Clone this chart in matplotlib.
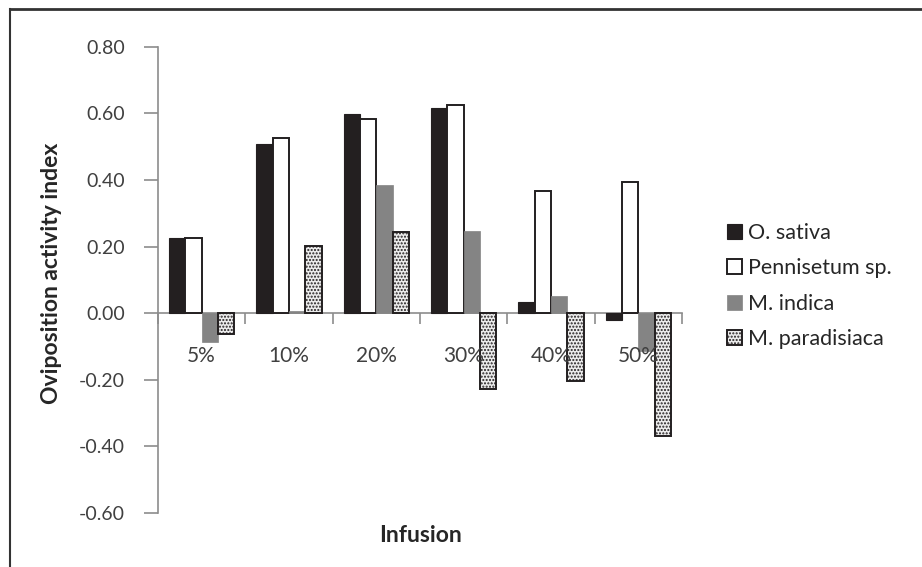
import numpy as np
import matplotlib
matplotlib.use('Agg')
import matplotlib.pyplot as plt
from matplotlib.lines import Line2D

plt.rcParams['font.family'] = ['Lato', 'DejaVu Sans']
plt.rcParams['hatch.linewidth'] = 1.0

# data
categories = ['5%', '10%', '20%', '30%', '40%', '50%']
o_sativa = [0.227, 0.509, 0.597, 0.615, 0.033, -0.022]
pennisetum = [0.225, 0.526, 0.584, 0.624, 0.366, 0.394]
m_indica = [-0.087, 0.006, 0.386, 0.247, 0.051, -0.113]
m_paradisiaca = [-0.062, 0.203, 0.245, -0.227, -0.205, -0.368]
series_names = ['O. sativa', 'Pennisetum sp.', 'M. indica', 'M. paradisiaca']
yticks = [-0.6, -0.4, -0.2, 0.0, 0.2, 0.4, 0.6, 0.8]

W, H = 922, 567
fig = plt.figure(figsize=(W / 100, H / 100), dpi=100)
ax = fig.add_axes([158 / W, 1 - 513 / H, (682 - 158) / W, (513 - 46.7) / H])

x = np.arange(len(categories)) + 0.5
w = 0.187
styles = [
    dict(color='#231f20', edgecolor='#231f20', linewidth=0.8),
    dict(color='white', edgecolor='#231f20', linewidth=1.4),
    dict(color='#848484', edgecolor='#848484', linewidth=0.5),
    dict(color='#ececec', edgecolor='#231f20', linewidth=1.4, hatch='.....'),
]
data = [o_sativa, pennisetum, m_indica, m_paradisiaca]
handles = []
for i, (vals, st) in enumerate(zip(data, styles)):
    b = ax.bar(x + (i - 1.5) * w, vals, w, zorder=3, **st)
    handles.append(b)

ax.set_xlim(0, len(categories))
ax.set_ylim(-0.6, 0.8)
ax.set_yticks(yticks)
ax.set_yticklabels(['%.2f' % v for v in yticks])

for s in ['top', 'right']:
    ax.spines[s].set_visible(False)
ax.spines['left'].set_color('#8c8c8c')
ax.spines['left'].set_linewidth(1.2)
ax.spines['bottom'].set_position(('data', 0))
ax.spines['bottom'].set_color('#8c8c8c')
ax.spines['bottom'].set_linewidth(1.2)
ax.spines['bottom'].set_zorder(2)

ax.tick_params(axis='y', direction='out', length=10, width=1.2, color='#8c8c8c',
               labelsize=14, labelcolor='#404040', pad=14)
ax.set_xticks(np.arange(len(categories) + 1))
ax.set_xticklabels([])
ax.tick_params(axis='x', which='major', direction='out', length=8, width=1.2,
               color='#8c8c8c')

# category labels sit below the zero line, drawn over the bars
for xi, lab in zip(x, categories):
    ax.text(xi, -0.128, lab, ha='center', va='center', fontsize=15,
            color='#404040', zorder=6)

fig.text(52 / W, 1 - 273 / H, 'Oviposition activity index', rotation=90,
         ha='center', va='center', fontsize=16.5, fontweight='bold', color='#262626')
fig.text(420 / W, 1 - 535 / H, 'Infusion', ha='center', va='center',
         fontsize=16.5, fontweight='bold', color='#262626')

leg = fig.legend(handles, series_names, loc='upper left',
                 bbox_to_anchor=(718 / W, 1 - 214 / H), frameon=False,
                 fontsize=15.5, handlelength=0.7, handleheight=0.7,
                 handletextpad=0.3, labelspacing=0.72, borderaxespad=0)
for t in leg.get_texts():
    t.set_color('#262626')

# outer frame (only left and top edges are visible in the crop)
fig.add_artist(Line2D([10 / W, 10 / W], [0, 1 - 9 / H], transform=fig.transFigure,
                      color='#333333', linewidth=1.5))
fig.add_artist(Line2D([10 / W, 1], [1 - 9 / H, 1 - 9 / H], transform=fig.transFigure,
                      color='#333333', linewidth=2))

fig.savefig('out.png', dpi=100)
